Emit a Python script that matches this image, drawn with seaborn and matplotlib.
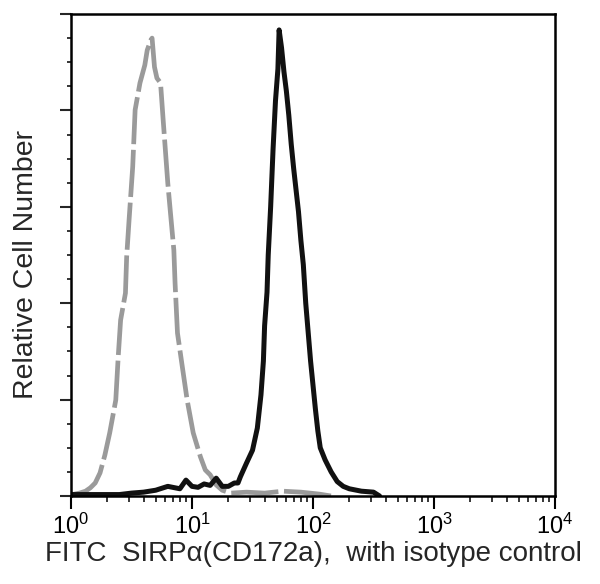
import numpy as np
import matplotlib
matplotlib.use("Agg")
import matplotlib.pyplot as plt
import seaborn as sns
from matplotlib.ticker import LogLocator, MultipleLocator, NullFormatter

# isotype control (grey, dashed): log10 fluorescence vs relative count
gray_logx = [0.00, 0.03, 0.07, 0.12, 0.16, 0.20, 0.24, 0.28, 0.32, 0.37,
             0.39, 0.41, 0.45, 0.46, 0.48, 0.51, 0.53, 0.57, 0.61, 0.63,
             0.66, 0.67, 0.69, 0.71, 0.74, 0.76, 0.80, 0.82, 0.85, 0.86,
             0.88, 0.92, 0.96, 1.01, 1.07, 1.11, 1.15, 1.20, 1.25, 1.32,
             1.45, 1.60, 1.75, 1.90, 2.05, 2.15]
gray_count = [0.2, 0.4, 0.6, 1.0, 1.7, 2.7, 4.8, 8.5, 13.1, 19.9,
              28.8, 36.5, 42.1, 49.6, 57.3, 68.3, 80.1, 85.7, 89.4, 92.5,
              94.6, 95.0, 89.0, 86.7, 85.7, 78.6, 64.9, 59.3, 51.0, 44.2,
              33.8, 26.8, 19.9, 13.1, 8.1, 5.4, 4.4, 2.3, 1.2, 0.6,
              0.8, 0.6, 1.0, 0.8, 0.4, 0.0]

# SIRPa (CD172a) stained (black, solid)
black_logx = [0.00, 0.40, 0.50, 0.60, 0.70, 0.80, 0.90, 0.95, 1.00, 1.05,
              1.10, 1.15, 1.20, 1.25, 1.30, 1.35, 1.38, 1.40, 1.45, 1.50,
              1.54, 1.57, 1.59, 1.60, 1.62, 1.63, 1.65, 1.67, 1.69, 1.71,
              1.72, 1.74, 1.76, 1.78, 1.80, 1.82, 1.84, 1.86, 1.88, 1.90,
              1.92, 1.94, 1.96, 1.98, 2.00, 2.02, 2.04, 2.06, 2.10, 2.15,
              2.20, 2.25, 2.30, 2.40, 2.50, 2.55]
black_count = [0.3, 0.3, 0.6, 0.8, 1.2, 2.0, 1.5, 3.3, 2.0, 1.8,
               2.5, 2.2, 3.7, 2.0, 2.0, 2.7, 2.7, 4.0, 6.8, 9.5,
               14.1, 21.0, 28.0, 35.3, 42.3, 50.0, 60.0, 72.0, 82.0, 88.6,
               96.7, 93.0, 88.0, 84.0, 79.0, 73.0, 68.0, 63.5, 59.0, 53.0,
               48.0, 40.0, 34.0, 28.0, 23.0, 18.0, 13.5, 10.0, 7.5, 5.0,
               3.0, 2.0, 1.5, 1.0, 0.8, 0.0]

x_label = "FITC  SIRP\u03b1(CD172a),  with isotype control"
y_label = "Relative Cell Number"

sns.set_style("ticks")
plt.rcParams["font.family"] = ["Liberation Sans", "DejaVu Sans"]
plt.rcParams["mathtext.fontset"] = "custom"
plt.rcParams["mathtext.rm"] = "Liberation Sans"

fig = plt.figure(figsize=(6, 5.84), dpi=100)
ax = fig.add_axes([71 / 600, 88 / 584, 484 / 600, 482 / 584])

sns.lineplot(x=np.power(10, gray_logx), y=gray_count, ax=ax, color="#9a9a9a",
             lw=3.4, linestyle=(0, (10, 1.2)), sort=False)
sns.lineplot(x=np.power(10, black_logx), y=black_count, ax=ax, color="#111111",
             lw=3.6, sort=False)

ax.set_xscale("log")
ax.set_xlim(1, 1e4)
ax.set_ylim(0, 100)
ax.xaxis.set_major_locator(LogLocator(base=10, numticks=10))
ax.xaxis.set_minor_locator(LogLocator(base=10, subs=np.arange(2, 10), numticks=50))
ax.xaxis.set_minor_formatter(NullFormatter())
ax.yaxis.set_major_locator(MultipleLocator(20))
ax.yaxis.set_minor_locator(MultipleLocator(5))
ax.set_yticklabels([])

for side in ["left", "right", "top", "bottom"]:
    ax.spines[side].set_linewidth(1.8)
    ax.spines[side].set_color("black")

ax.tick_params(axis="x", which="major", direction="out", length=9, width=1.5,
               labelsize=17, pad=4, colors="black")
ax.tick_params(axis="x", which="minor", direction="out", length=4.5, width=1.3)
ax.tick_params(axis="y", which="major", direction="out", length=8, width=1.5)
ax.tick_params(axis="y", which="minor", direction="out", length=3, width=1.3)

ax.set_xlabel(x_label, fontsize=20, labelpad=1)
ax.set_ylabel(y_label, fontsize=20.5)
ax.yaxis.set_label_coords(-0.066, 0.48)

fig.savefig("out.png", dpi=100)
